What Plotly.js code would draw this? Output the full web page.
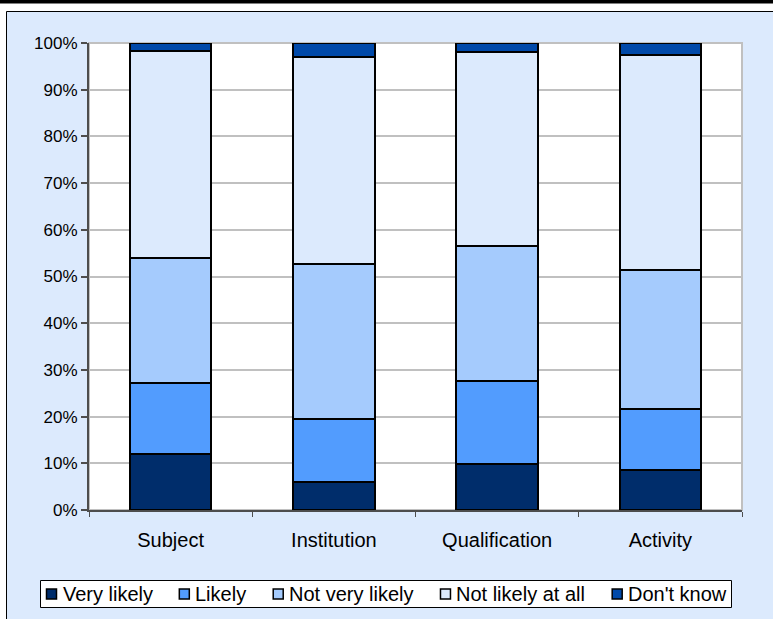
<!DOCTYPE html>
<html>
<head>
<meta charset="utf-8">
<script src="https://cdn.plot.ly/plotly-3.0.1.min.js"></script>
<style>
  html, body { margin: 0; padding: 0; background: #ffffff; }
  #chart { width: 773px; height: 619px; }
</style>
</head>
<body>
<div id="chart"></div>
<script>
// Survey responses by category (percent of respondents)
const categories = ['Subject', 'Institution', 'Qualification', 'Activity'];
const veryLikely      = [11.9,  6.0,  9.8,  8.5];
const likely          = [15.3, 13.5, 17.8, 13.2];
const notVeryLikely   = [26.8, 33.2, 28.9, 29.7];
const notLikelyAtAll  = [44.3, 44.4, 41.6, 46.0];
const dontKnow        = [ 1.7,  2.9,  1.9,  2.6];
const yTickValues = [0, 10, 20, 30, 40, 50, 60, 70, 80, 90, 100];
const yTickLabels = ['0%', '10%', '20%', '30%', '40%', '50%', '60%', '70%', '80%', '90%', '100%'];

const seriesNames  = ['Very likely', 'Likely', 'Not very likely', 'Not likely at all', "Don't know"];
const seriesValues = [veryLikely, likely, notVeryLikely, notLikelyAtAll, dontKnow];
const seriesColors = ['#002D6B', '#529CFE', '#A5CBFD', '#DCEAFD', '#0049A9'];

const FONT = '"Liberation Sans", Arial, sans-serif';

const traces = seriesNames.map((name, i) => ({
  type: 'bar',
  name: name,
  x: categories,
  y: seriesValues[i],
  width: 0.5,
  marker: { color: seriesColors[i], line: { color: '#000000', width: 2 } },
  hoverinfo: 'x+y+name'
}));

// plot area spans x 89..742 px, y 43..510 px
const W = 773, H = 619, L = 89, R = 742, T = 43, B = 510;
const px = v => (v - L) / (R - L);
const py = v => (B - v) / (B - T);

const shapes = [
  // chart frame
  { type: 'rect', xref: 'paper', yref: 'paper', layer: 'below',
    x0: px(6.5), x1: px(790), y0: py(640), y1: py(11.5),
    fillcolor: '#DCEAFD', line: { color: '#000000', width: 1 } },
  // plot area
  { type: 'rect', xref: 'paper', yref: 'paper', layer: 'below',
    x0: 0, x1: 1, y0: 0, y1: 1,
    fillcolor: '#ffffff', line: { color: '#c0c0c0', width: 2 } },
  // heavy rule along the top edge
  { type: 'rect', xref: 'paper', yref: 'paper', layer: 'below',
    x0: px(-5), x1: px(800), y0: py(3.5), y1: py(-2),
    fillcolor: '#000000', line: { width: 0 } }
];
const annotations = [];

// Legend row: boxed, one swatch + label per series, spread across the box
const LEG = { left: 40.5, right: 731.5, top: 580.5, bottom: 607.5, pad: 6, swatch: 10, textGap: 5, fontSize: 20 };
const ctx = document.createElement('canvas').getContext('2d');
ctx.font = LEG.fontSize + 'px "Liberation Sans"';
const textW = seriesNames.map(n => ctx.measureText(n).width);
const itemW = textW.map(w => LEG.swatch + LEG.textGap + w);
const used = itemW.reduce((a, b) => a + b, 0);
const between = (LEG.right - LEG.left - 2 * LEG.pad - used) / (seriesNames.length - 1);
const midY = (LEG.top + LEG.bottom) / 2;

shapes.push({ type: 'rect', xref: 'paper', yref: 'paper', layer: 'above',
  x0: px(LEG.left), x1: px(LEG.right), y0: py(LEG.bottom), y1: py(LEG.top),
  fillcolor: '#ffffff', line: { color: '#000000', width: 1 } });

let cursor = LEG.left + LEG.pad;
seriesNames.forEach((name, i) => {
  shapes.push({ type: 'rect', xref: 'paper', yref: 'paper', layer: 'above',
    x0: px(cursor), x1: px(cursor + LEG.swatch),
    y0: py(midY + LEG.swatch / 2), y1: py(midY - LEG.swatch / 2),
    fillcolor: seriesColors[i], line: { color: '#000000', width: 1.5 } });
  annotations.push({ xref: 'paper', yref: 'paper',
    x: px(cursor + LEG.swatch + LEG.textGap), y: py(midY),
    xanchor: 'left', yanchor: 'middle', showarrow: false,
    text: name, borderpad: 0,
    font: { family: FONT, size: LEG.fontSize, color: '#000000' } });
  cursor += itemW[i] + between;
});

const layout = {
  width: W,
  height: H,
  margin: { l: L, r: W - R, t: T, b: H - B, pad: 0, autoexpand: false },
  paper_bgcolor: '#ffffff',
  plot_bgcolor: '#ffffff',
  barmode: 'stack',
  bargap: 0.5,
  showlegend: false,
  font: { family: FONT, color: '#000000', size: 16 },
  xaxis: {
    type: 'category',
    showgrid: false,
    showline: true,
    linecolor: '#4d4d4d',
    linewidth: 2,
    ticks: 'outside',
    tickson: 'boundaries',
    ticklen: 5,
    tickcolor: '#4d4d4d',
    tickwidth: 1,
    tickfont: { family: FONT, size: 20, color: '#000000' },
    ticklabelstandoff: 11,
    zeroline: false,
    fixedrange: true
  },
  yaxis: {
    range: [0, 100],
    tickvals: yTickValues,
    ticktext: yTickLabels,
    showgrid: true,
    gridcolor: '#c0c0c0',
    gridwidth: 2,
    showline: true,
    linecolor: '#4d4d4d',
    linewidth: 2,
    ticks: 'outside',
    ticklen: 6,
    tickcolor: '#4d4d4d',
    tickwidth: 2,
    tickfont: { family: FONT, size: 17, color: '#000000' },
    ticklabelstandoff: 0,
    zeroline: false,
    fixedrange: true
  },
  shapes: shapes,
  annotations: annotations
};

Plotly.newPlot('chart', traces, layout, { displayModeBar: false, staticPlot: true });
</script>
</body>
</html>
